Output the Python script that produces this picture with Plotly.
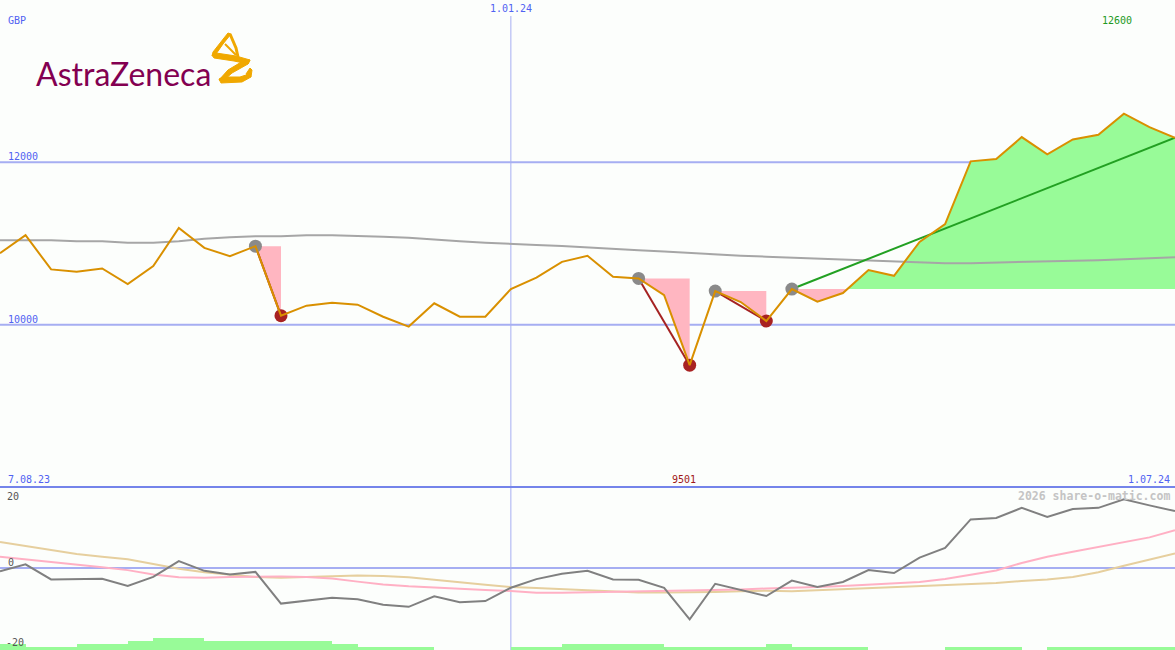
import pandas as pd
import plotly.graph_objects as go

# ---------------- data ----------------
dates = pd.date_range("2023-08-14", periods=47, freq="7D")

price = [10881, 11102, 10681, 10651, 10693, 10500, 10721, 11192, 10946, 10844,
         10967, 10111, 10234, 10270, 10246, 10098, 9976, 10263, 10098, 10098,
         10439, 10580, 10774, 10848, 10590, 10570, 10365, 9501, 10414, 10279,
         10045, 10439, 10283, 10390, 10672, 10602, 11020, 11238, 12012, 12040,
         12311, 12098, 12282, 12340, 12600, 12433, 12303]

moving_avg = [11041, 11041, 11041, 11029, 11029, 11010, 11010, 11029, 11059, 11078,
              11090, 11090, 11102, 11102, 11096, 11084, 11072, 11047, 11029, 11010,
              10992, 10980, 10970, 10955, 10934, 10918, 10900, 10881, 10863, 10850,
              10838, 10826, 10814, 10801, 10789, 10777, 10764, 10758, 10758, 10764,
              10771, 10777, 10783, 10795, 10807, 10820, 10832]

osc_gray = [-0.9, 1.0, -3.2, -3.2, -3.0, -5.0, -2.5, 1.9, -0.8, -1.8,
            -1.1, -9.9, -9.0, -8.3, -8.7, -10.2, -10.8, -7.9, -9.5, -9.2,
            -5.5, -3.1, -1.6, -0.8, -3.2, -3.3, -5.5, -14.3, -4.4, -6.0,
            -7.8, -3.5, -5.3, -3.9, -0.6, -1.4, 2.9, 5.6, 13.5, 13.9,
            16.7, 14.2, 16.4, 16.7, 19.1, 17.4, 15.8]

osc_pink = [3.1, 2.4, 1.6, 0.9, 0.2, -0.6, -1.8, -2.6, -2.7, -2.5,
            -2.4, -2.4, -2.5, -2.9, -3.8, -4.6, -5.1, -5.5, -5.8, -6.1,
            -6.4, -6.9, -6.9, -6.8, -6.7, -6.5, -6.4, -6.4, -6.2, -6.0,
            -5.7, -5.6, -5.3, -5.0, -4.7, -4.4, -3.9, -3.1, -1.9, -0.7,
            1.4, 3.1, 4.5, 5.8, 7.2, 8.5, 10.5]

osc_tan = [7.2, 6.1, 5.0, 3.9, 3.1, 2.4, 1.1, -0.2, -1.2, -1.9,
           -2.5, -2.7, -2.6, -2.3, -2.1, -2.2, -2.6, -3.2, -4.0, -4.7,
           -5.3, -5.6, -5.9, -6.3, -6.6, -6.8, -6.8, -6.8, -6.7, -6.5,
           -6.3, -6.5, -6.2, -5.8, -5.5, -5.2, -4.9, -4.7, -4.4, -4.2,
           -3.6, -3.2, -2.5, -1.2, 0.6, 2.4, 4.0]

volume_level = [2, 1, 1, 2, 2, 3, 4, 4, 3, 3, 3, 3, 3, 2, 1, 1, 1, 0, 0, 0,
                1, 1, 2, 2, 2, 2, 1, 1, 1, 1, 2, 1, 1, 1, 0, 0, 0, 1, 1, 1,
                0, 1, 1, 1, 1, 1]

drawdowns = [(10, 11), (25, 27), (28, 30)]   # (peak index, trough index)
trend_start = 31

price_levels = [12000, 10000]
label_start, label_mid, label_end = "7.08.23", "1.01.24", "1.07.24"
currency = "GBP"
max_label, min_label = "12600", "9501"
osc_labels = [20, 0, -20]

# ---------------- styling ----------------
W, H = 1175, 650
BG = "#fcfefc"
ORANGE = "#d99000"
PINK = "#ffb6c1"
GREEN_FILL = "#98fb98"
BLUE_TXT = "#5062f2"
GRID = "#a6aef2"
MONO = "DejaVu Sans Mono"
LOGO_Y = "#f0a800"
main_bottom = 163 / H


def px(x):
    return x / W


def py(y):
    return 1 - y / H


week = dates[1] - dates[0]


def frac_date(t):
    return dates[0] + week * t


fig = go.Figure()

# drawdown pink triangles
for pk, tr in drawdowns:
    xs = [dates[pk], dates[tr]] + [dates[j] for j in range(tr, pk - 1, -1)]
    ys = [price[pk], price[pk]] + [price[j] for j in range(tr, pk - 1, -1)]
    fig.add_trace(go.Scatter(x=xs, y=ys, mode="lines", fill="toself",
                             fillcolor=PINK, line=dict(width=0), hoverinfo="skip"))

# trend region (green above base, pink below)
base = price[trend_start]
tx, ty = [], []
for i in range(trend_start, len(price) - 1):
    tx.append(float(i)); ty.append(price[i])
    a, b = price[i] - base, price[i + 1] - base
    if a * b < 0:
        t = i + (base - price[i]) / (price[i + 1] - price[i])
        tx.append(t); ty.append(base)
tx.append(float(len(price) - 1)); ty.append(price[-1])
txd = [frac_date(t) for t in tx]
for fn, col in ((max, GREEN_FILL), (min, PINK)):
    fig.add_trace(go.Scatter(x=txd, y=[base] * len(txd), mode="lines",
                             line=dict(width=0), hoverinfo="skip"))
    fig.add_trace(go.Scatter(x=txd, y=[fn(v, base) for v in ty], mode="lines",
                             fill="tonexty", fillcolor=col, line=dict(width=0),
                             hoverinfo="skip"))

# moving average
fig.add_trace(go.Scatter(x=dates, y=moving_avg, mode="lines",
                         line=dict(color="#a6a6a6", width=2)))

# drawdown lines
for pk, tr in drawdowns:
    fig.add_trace(go.Scatter(x=[dates[pk], dates[tr]], y=[price[pk], price[tr]],
                             mode="lines", line=dict(color="#a52222", width=2)))

# trend line
fig.add_trace(go.Scatter(x=[dates[trend_start], dates[-1]],
                         y=[price[trend_start], price[-1]], mode="lines",
                         line=dict(color="#22a022", width=2)))

# markers
pk_idx = [d[0] for d in drawdowns] + [trend_start]
tr_idx = [d[1] for d in drawdowns]
fig.add_trace(go.Scatter(x=[dates[i] for i in pk_idx], y=[price[i] for i in pk_idx],
                         mode="markers", marker=dict(color="#8a8a8a", size=13)))
fig.add_trace(go.Scatter(x=[dates[i] for i in tr_idx], y=[price[i] for i in tr_idx],
                         mode="markers", marker=dict(color="#a82222", size=13)))

# price
fig.add_trace(go.Scatter(x=dates, y=price, mode="lines",
                         line=dict(color=ORANGE, width=2)))

# lower panel
fig.add_trace(go.Bar(x=dates[:-1], y=volume_level, width=week.total_seconds() * 1000,
                     offset=0, marker=dict(color=GREEN_FILL, line=dict(width=0)),
                     xaxis="x", yaxis="y3"))
fig.add_trace(go.Scatter(x=dates, y=osc_tan, mode="lines", yaxis="y2",
                         line=dict(color="#e6cf9e", width=2)))
fig.add_trace(go.Scatter(x=dates, y=osc_pink, mode="lines", yaxis="y2",
                         line=dict(color="#ffb0c4", width=2)))
fig.add_trace(go.Scatter(x=dates, y=osc_gray, mode="lines", yaxis="y2",
                         line=dict(color="#808080", width=2)))

shapes = []
for lv in price_levels:
    shapes.append(dict(type="line", xref="paper", yref="y", x0=0, x1=1, y0=lv, y1=lv,
                       line=dict(color=GRID, width=2), layer="below"))
shapes.append(dict(type="line", xref="paper", yref="y2", x0=0, x1=1, y0=0, y1=0,
                   line=dict(color=GRID, width=2), layer="below"))
shapes.append(dict(type="line", xref="x", yref="paper", x0=pd.Timestamp("2024-01-01"),
                   x1=pd.Timestamp("2024-01-01"), y0=0, y1=py(16),
                   line=dict(color=GRID, width=1), layer="below"))
shapes.append(dict(type="line", xref="paper", yref="paper", x0=0, x1=1,
                   y0=main_bottom, y1=main_bottom, line=dict(color="#7484ea", width=2)))


# logo swirl (decorative ribbon)
def pth(pts, close=False):
    s = "M " + " L ".join(f"{px(x):.5f},{py(y):.5f}" for x, y in pts)
    return s + (" Z" if close else "")


ribbon = [
    [(228, 33), (231, 34), (223, 44), (216, 54), (212, 56), (213, 52), (224, 38)],
    [(212, 55), (216, 53), (236, 56), (250, 60), (248, 64), (234, 61), (214, 58)],
    [(250, 60), (248, 64), (232, 73), (223, 81), (219, 80), (228, 70), (243, 61)],
    [(219, 79), (223, 77), (240, 77), (249, 74), (251, 77), (242, 82), (221, 83)],
    [(246, 74), (250, 68), (252, 70), (251, 77)],
]
for poly in ribbon:
    shapes.append(dict(type="path", xref="paper", yref="paper", path=pth(poly, True),
                       fillcolor=LOGO_Y, line=dict(color=LOGO_Y, width=1)))
shapes.append(dict(type="path", xref="paper", yref="paper",
                   path=pth([(230, 34), (236, 48), (238, 57)]),
                   line=dict(color=LOGO_Y, width=3)))
shapes.append(dict(type="path", xref="paper", yref="paper",
                   path=pth([(225, 44), (236, 55)]),
                   line=dict(color=LOGO_Y, width=2)))

ann = []


def txt(text, x, y, xanchor="left", color=BLUE_TXT, size=10, family=MONO, xref="paper"):
    ann.append(dict(text=text, x=x, y=y, xref=xref, yref="paper", xanchor=xanchor,
                    yanchor="middle", showarrow=False,
                    font=dict(family=family, size=size, color=color)))


txt(currency, px(6), py(20))
txt(label_mid, pd.Timestamp("2024-01-01"), py(9), "center", xref="x")
txt(max_label, px(1117), py(21), "center", color="#229922")
txt(f"{price_levels[0]}", px(6), py(156))
txt(f"{price_levels[1]}", px(6), py(319))
txt(label_start, px(6), py(479))
txt(min_label, px(684), py(479), "center", color="#a01818")
txt(label_end, px(1172), py(479), "right")
txt("<b>2026 share-o-matic.com</b>", px(1172), py(496), "right", color="#c4c4c4", size=11.5)
txt(str(osc_labels[0]), px(5), py(496), color="#555555")
txt(str(osc_labels[1]), px(6), py(562), color="#555555")
txt(str(osc_labels[2]), px(4), py(642), color="#555555")
ann.append(dict(text="AstraZeneca", x=px(34), y=py(74), xref="paper", yref="paper",
                xanchor="left", yanchor="middle", showarrow=False,
                font=dict(family="Lato", size=32, color="#830051")))

fig.update_layout(
    width=W, height=H, margin=dict(l=0, r=0, t=0, b=0),
    paper_bgcolor=BG, plot_bgcolor=BG, showlegend=False, hovermode=False,
    bargap=0,
    xaxis=dict(range=[dates[0], dates[-1]], visible=False),
    yaxis=dict(range=[8000, 14000], domain=[main_bottom, 1], visible=False),
    yaxis2=dict(range=[-22.8, 22.5], domain=[0, main_bottom], visible=False),
    yaxis3=dict(range=[0, 163 / 3], overlaying="y2", visible=False),
    shapes=shapes, annotations=ann,
)

fig.write_html("out.html", config={"displayModeBar": False},
               post_script="document.body.style.margin='0';")
